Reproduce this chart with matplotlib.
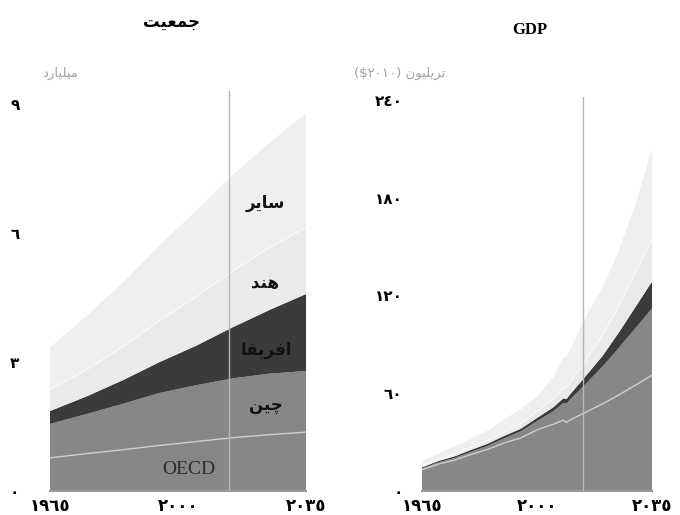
import matplotlib
matplotlib.use("Agg")
import matplotlib.pyplot as plt
import numpy as np

# Persian labels written in visual order with presentation forms
# (matplotlib does no Arabic shaping / bidi on its own)
T_POP = "\uFE96\uFEF4\uFECC\uFEE4\uFE9F"            # جمعیت
T_BILLION = "\uFEA9\uFEAD\uFE8E\uFEF4\uFEE0\uFEF4\uFEE3"  # میلیارد
T_TRILLION = "(\\$\u0662\u0660\u0661\u0660) \uFEE5\uFEEE\uFEF4\uFEE0\uFEF3\uFEAE\uFE97"  # تریلیون ($۲۰۱۰)
L_OTHER = "\uFEAE\uFEF3\uFE8E\uFEB3"                 # سایر
L_INDIA = "\uFEAA\uFEE8\uFEEB"                       # هند
L_AFRICA = "\uFE8E\uFED8\uFEF3\uFEAE\uFED3\uFE8D"   # افریقا
L_CHINA = "\uFEE6\uFEF4\uFB7C"                       # چین

x_ticks = [1965, 2000, 2035]
x_ticklabels = ["\u0661\u0669\u0666\u0665", "\u0662\u0660\u0660\u0660", "\u0662\u0660\u0663\u0665"]

# population, billions
pop_years = [1965, 1975, 1985, 1995, 2005, 2015, 2025, 2035]
pop_oecd = [0.77, 0.87, 0.96, 1.06, 1.15, 1.24, 1.31, 1.37]
pop_china = [0.79, 0.92, 1.07, 1.22, 1.31, 1.38, 1.42, 1.42]
pop_africa = [0.30, 0.41, 0.55, 0.72, 0.92, 1.19, 1.48, 1.79]
pop_india = [0.50, 0.62, 0.78, 0.96, 1.14, 1.31, 1.45, 1.55]
pop_other = [0.98, 1.25, 1.49, 1.76, 2.00, 2.23, 2.44, 2.65]
pop_yticks = [0, 3, 6, 9]
pop_yticklabels = ["\u0660", "\u0663", "\u0666", "\u0669"]

# GDP, trillion $2010
gdp_years = [1965, 1970, 1975, 1980, 1985, 1990, 1995, 2000, 2005, 2008, 2009, 2010, 2014, 2020, 2025, 2030, 2035]
gdp_oecd = [13.0, 16.5, 19.0, 22.5, 25.5, 29.5, 32.5, 37.5, 41.0, 43.5, 42.0, 43.5, 47.5, 53.5, 59.0, 65.0, 71.0]
gdp_china = [0.9, 1.1, 1.3, 1.6, 2.2, 2.8, 4.0, 5.4, 8.0, 10.5, 11.5, 12.6, 16.5, 23.0, 29.0, 35.0, 41.0]
gdp_africa = [0.6, 0.8, 1.0, 1.2, 1.3, 1.5, 1.6, 1.9, 2.4, 2.8, 2.9, 3.0, 4.5, 6.5, 9.5, 13.0, 16.5]
gdp_india = [0.8, 1.0, 1.2, 1.5, 1.9, 2.5, 3.2, 4.0, 5.3, 6.3, 6.8, 7.4, 9.0, 12.5, 16.5, 21.0, 26.0]
gdp_other = [3.0, 3.6, 5.0, 5.2, 6.1, 7.7, 8.7, 9.2, 13.3, 18.9, 19.3, 19.5, 26.5, 29.5, 34.0, 42.0, 55.5]
gdp_yticks = [0, 60, 120, 180, 240]
gdp_yticklabels = ["\u0660", "\u0666\u0660", "\u0661\u0662\u0660", "\u0661\u0668\u0660", "\u0662\u0664\u0660"]

split_year = 2014

GRAY = "#878787"
DARK = "#3b3b3b"
INDIA_C = "#eaeaea"
OTHER_C = "#efefef"
colors = [GRAY, GRAY, DARK, INDIA_C, OTHER_C]

W, H = 680, 515
fig = plt.figure(figsize=(6.8, 5.15), dpi=100)


def fx(px):
    return px / W


def fy(py):
    return 1 - py / H


def panel(rect, years, layers, ylim, yticks, yticklabels, ypad):
    ax = fig.add_axes(rect)
    ax.stackplot(years, *layers, colors=colors, linewidth=0)
    cum = np.cumsum(np.array(layers), axis=0)
    ax.plot(years, cum[0], color="#cfcfcf", lw=1.0)
    ax.plot(years, cum[3], color="#fbfbfb", lw=0.8)
    ax.axvline(split_year, color="#b5b5b5", lw=1.0, zorder=5)
    ax.set_xlim(1965, 2035)
    ax.set_ylim(*ylim)
    for s in ["top", "right", "left"]:
        ax.spines[s].set_visible(False)
    ax.spines["bottom"].set_color("#9a9a9a")
    ax.spines["bottom"].set_linewidth(1.5)
    ax.set_xticks(x_ticks)
    ax.set_xticklabels(x_ticklabels, fontsize=12, fontweight="bold", family="DejaVu Sans")
    ax.set_yticks(yticks)
    ax.set_yticklabels(yticklabels, fontsize=11, fontweight="bold", family="DejaVu Sans")
    ax.tick_params(axis="x", length=0, pad=4)
    ax.tick_params(axis="y", length=0, pad=ypad)
    ax.patch.set_alpha(0)
    return ax


ax1 = panel([fx(50), fy(491), fx(256), 400 / H], pop_years,
            [pop_oecd, pop_china, pop_africa, pop_india, pop_other],
            (0, 400 / 43), pop_yticks, pop_yticklabels, 22)

ax2 = panel([fx(422), fy(491), fx(230), 394 / H], gdp_years,
            [gdp_oecd, gdp_china, gdp_africa, gdp_india, gdp_other],
            (0, 394 / 1.63), gdp_yticks, gdp_yticklabels, 14)

# titles and units
fig.text(fx(172), fy(22), T_POP, fontsize=12, fontweight="bold", ha="center", va="center")
fig.text(fx(60), fy(73), T_BILLION, fontsize=9.5, color="#a0a0a0", ha="center", va="center")
fig.text(fx(530), fy(30), "GDP", fontsize=12, fontweight="bold", family="Liberation Serif",
         ha="center", va="center")
fig.text(fx(400), fy(73), T_TRILLION, fontsize=9.5, color="#a0a0a0", ha="center", va="center")

# layer labels
lab = dict(fontsize=12, fontweight="bold", ha="center", va="center", color="#111111", zorder=6)
fig.text(fx(265), fy(203), L_OTHER, **lab)
fig.text(fx(265), fy(283), L_INDIA, **lab)
fig.text(fx(266), fy(350), L_AFRICA, **lab)
fig.text(fx(266), fy(405), L_CHINA, **lab)
fig.text(fx(189), fy(469), "OECD", fontsize=14, family="Liberation Serif", color="#2a2a2a",
         ha="center", va="center")

fig.savefig("out.png", dpi=100)
